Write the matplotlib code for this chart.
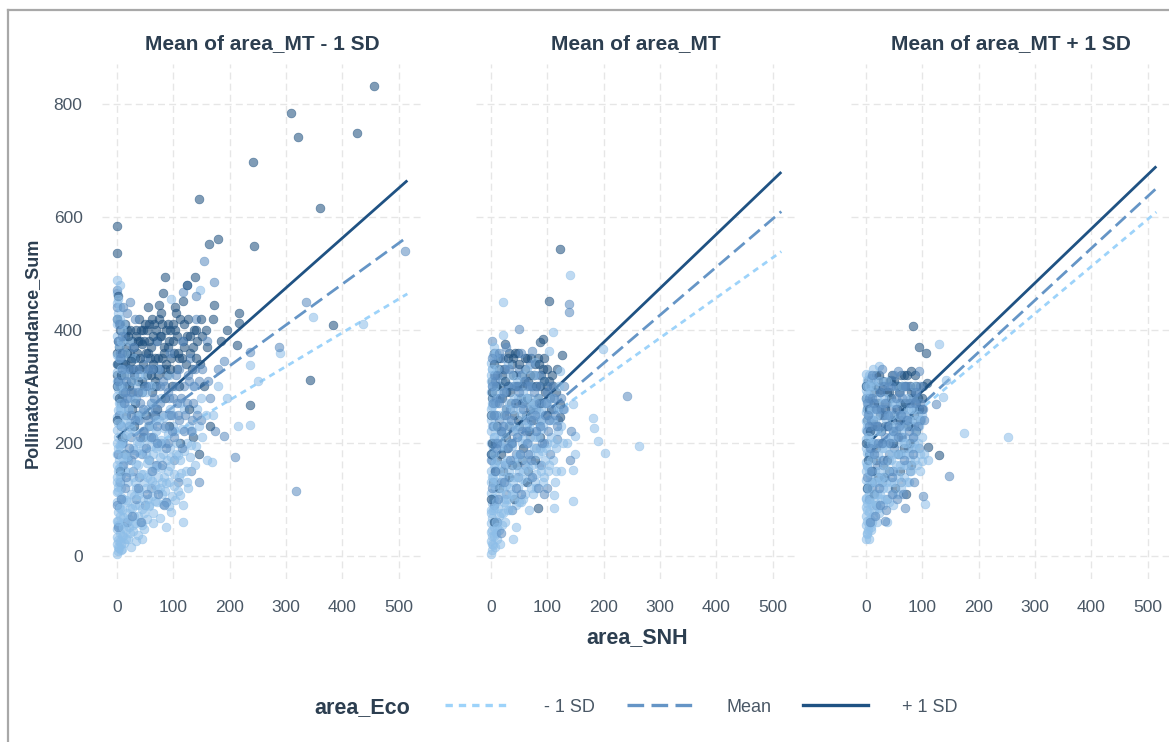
import matplotlib
matplotlib.use('Agg')
import matplotlib.pyplot as plt
from matplotlib.lines import Line2D

plt.rcParams['font.family'] = ['Liberation Sans', 'DejaVu Sans']

# panel titles and legend labels
panel_titles = ['Mean of area_MT - 1 SD', 'Mean of area_MT', 'Mean of area_MT + 1 SD']
eco_labels = ['- 1 SD', 'Mean', '+ 1 SD']
x_ticks = [0, 100, 200, 300, 400, 500]
y_ticks = [0, 200, 400, 600, 800]

# ---- panel 1 points (area_SNH, PollinatorAbundance_Sum), grouped by area_Eco shade
p1_light_x = [0, 2, 4, 1, 3, 0, 5, 1, 3, 0, 6, 2, 4, 0, 7, 1, 3, 0, 5, 2, 0, 4, 1, 6, 0, 3, 1, 5, 0, 2, 4, 0, 3, 1, 0, 2, 0, 4, 1, 0, 2, 0, 1, 0,
              8, 12, 15, 10, 18, 22, 25, 30, 28, 35, 40, 38, 45, 48, 52, 55, 60, 58, 65, 68, 70, 75, 72, 80, 85, 88, 90, 95, 98, 100,
              105, 110, 117, 120, 125, 130, 135, 140, 145, 150, 160, 169, 170, 180, 195, 215, 237, 236, 250, 290, 348, 436, 147,
              12, 16, 20, 24, 32, 36, 42, 46, 50, 56, 62, 66, 74, 78, 82, 92, 20, 26, 14, 8, 6, 10, 18, 22, 5, 30, 40, 44, 34, 87,
              118, 96, 8, 12, 16, 6, 9, 14, 28, 33, 38, 54, 64, 76, 84, 94, 104, 112, 128, 142]
p1_light_y = [2, 8, 14, 20, 27, 33, 40, 47, 55, 62, 70, 78, 86, 95, 104, 113, 122, 131, 140, 150, 160, 170, 180, 190, 200, 211, 222,
              233, 245, 258, 270, 283, 296, 310, 325, 340, 356, 372, 390, 410, 430, 447, 465, 488,
              20, 35, 60, 80, 95, 50, 110, 70, 140, 120, 90, 160, 55, 130, 180, 100, 150, 210, 75, 125, 190, 240, 160, 110, 200, 95,
              150, 260, 105, 230, 180, 140, 90, 260, 200, 175, 300, 195, 230, 280, 170, 166, 250, 300, 280, 230, 232, 338, 310, 360,
              423, 411, 470, 200, 240, 170, 280, 220, 300, 250, 190, 320, 260, 230, 300, 330, 280, 180, 320, 130, 15, 150, 260, 310,
              350, 330, 380, 420, 350, 200, 30, 25, 50, 60, 455, 120, 100, 45, 55, 160, 270, 190, 90, 240, 140, 180, 120, 140, 190,
              220, 270, 230, 260]
p1_light_x_more = [3, 5, 7, 9, 11, 13, 17, 19, 21, 23, 27, 29, 31, 33, 37, 39, 41, 43, 47, 49, 51, 53, 57, 59, 61, 63, 67, 69, 71,
                   73, 77, 79, 81, 83, 86, 89, 91, 93, 97, 99, 102, 106, 109, 113, 116, 122, 127, 133, 138, 152, 158, 10, 12, 15,
                   18, 21, 24, 27, 31, 35, 39, 43, 47, 51, 55, 60, 65, 70, 8, 11, 6, 14, 4, 7, 9, 2, 5, 3, 6, 1, 2, 4,
                   2, 4, 6, 8, 10, 12, 14, 16, 18, 20, 22, 24, 26, 28, 30, 32, 34, 36, 38, 40, 42, 44, 46, 48, 50, 54, 56, 58, 62,
                   64, 66, 68, 72, 74, 76, 78, 82, 84, 88, 92, 94, 96, 101, 104, 108, 112, 114, 119, 124, 132, 1, 3, 5, 7, 9, 3,
                   6, 11, 13, 15]
p1_light_y_more = [15, 25, 10, 35, 50, 22, 30, 75, 65, 40, 85, 55, 105, 130, 70, 110, 60, 145, 100, 75, 120, 165, 90, 135, 195,
                   105, 155, 220, 95, 140, 175, 205, 130, 245, 115, 170, 215, 130, 175, 250, 145, 200, 115, 170, 225, 150, 120,
                   220, 160, 210, 250, 230, 300, 180, 215, 260, 235, 310, 275, 245, 320, 290, 255, 290, 230, 300, 270, 240, 380,
                   410, 440, 360, 350, 200, 175, 115, 85, 300, 270, 420, 235, 155,
                   62, 128, 196, 142, 12, 68, 212, 98, 176, 30, 148, 84, 226, 44, 188, 58, 162, 204, 36, 116, 182, 82, 144, 48,
                   206, 64, 172, 88, 132, 58, 206, 96, 118, 194, 66, 156, 92, 226, 128, 88, 158, 78, 124, 98, 178, 108, 146, 186,
                   130, 196, 140, 190, 260, 330, 400, 455, 480, 290, 250, 320]
p1_mid_x = [0, 0, 3, 5, 8, 12, 15, 20, 25, 30, 35, 40, 45, 50, 55, 60, 65, 70, 75, 80, 85, 90, 95, 100, 105, 110, 115, 120, 125,
            130, 135, 140, 145, 155, 160, 165, 172, 180, 190, 209, 190, 237, 287, 317, 335, 511, 117, 140, 146, 88, 60, 40, 25, 10,
            18, 70, 50, 4, 2, 6, 1, 3, 9, 14, 22, 28, 34, 44, 48, 58, 64, 78, 92, 102, 108, 132, 150, 175]
p1_mid_y = [470, 440, 380, 300, 230, 160, 120, 260, 210, 320, 280, 240, 180, 350, 300, 270, 210, 380, 330, 250, 300, 200, 360, 280,
            320, 240, 380, 300, 480, 350, 270, 420, 310, 522, 380, 280, 485, 330, 212, 175, 345, 361, 370, 115, 450, 540, 467, 460,
            131, 95, 120, 140, 170, 200, 60, 160, 90, 250, 180, 130, 90, 50, 280, 330, 230, 150, 100, 330, 220, 170, 250, 200, 250,
            170, 130, 150, 240, 220]
p1_mid_x_more = [5, 9, 13, 17, 21, 26, 31, 36, 41, 46, 51, 57, 61, 66, 71, 76, 81, 86, 91, 96, 101, 106, 111, 116, 121, 126, 131,
                 137, 143, 152, 162, 7, 16, 27, 37, 43, 53, 63, 73, 83, 11, 19, 33, 4, 24,
                 2, 6, 10, 14, 18, 23, 26, 29, 33, 38, 42, 47, 52, 56, 62, 67, 72, 77, 82, 87, 93, 98, 103, 109, 114, 119, 124,
                 128, 134, 139]
p1_mid_y_more = [350, 390, 270, 310, 190, 250, 180, 330, 270, 220, 190, 330, 210, 280, 230, 300, 160, 230, 290, 250, 210, 270, 330,
                 190, 250, 320, 220, 300, 250, 330, 310, 100, 140, 70, 120, 60, 110, 150, 110, 90, 440, 430, 420, 410, 450,
                 310, 360, 330, 290, 280, 330, 290, 370, 240, 290, 210, 260, 300, 240, 330, 260, 200, 270, 310, 190, 280, 220,
                 300, 250, 280, 220, 270, 310, 240, 330]
p1_dark_x = [456, 308, 321, 425, 241, 146, 360, 0, 0, 243, 180, 164, 85, 138, 82, 125, 172, 75, 118, 55, 104, 217, 217, 213, 237,
             342, 383, 5, 10, 15, 20, 25, 30, 35, 40, 45, 50, 55, 60, 65, 70, 75, 80, 85, 90, 95, 100, 105, 110, 115, 120, 130, 140,
             150, 160, 170, 0, 2, 4, 8, 12, 18, 22, 28, 32, 38, 42, 48, 52, 58, 62, 68, 72, 78, 88, 92, 98, 108, 112, 128, 135, 145,
             155, 165, 185, 195, 0, 3, 15, 25, 45, 65, 1, 10, 30, 15, 6]
p1_dark_y = [832, 784, 743, 750, 697, 632, 616, 584, 536, 549, 561, 552, 494, 494, 466, 480, 445, 445, 452, 440, 440, 430, 412, 373,
             267, 311, 409, 400, 360, 340, 390, 310, 370, 400, 330, 290, 410, 360, 320, 390, 300, 420, 350, 280, 410, 330, 380, 430,
             300, 350, 410, 390, 350, 420, 370, 420, 300, 340, 280, 320, 290, 360, 300, 330, 270, 380, 350, 300, 250, 380, 290, 350,
             260, 390, 340, 230, 300, 360, 200, 260, 210, 180, 300, 230, 380, 400, 420, 460, 410, 345, 375, 330, 240, 210, 230, 180,
             150]
p1_dark_x_more = [3, 7, 11, 13, 17, 19, 23, 27, 29, 33, 37, 39, 43, 47, 49, 53, 57, 59, 63, 67, 69, 73, 77, 79, 83, 87, 89, 93, 97,
                  103, 107, 113, 117, 123, 127, 133, 137, 143, 148, 158, 7, 17, 27, 37, 47, 57, 67, 2, 1, 0,
                  1, 4, 6, 9, 12, 14, 16, 21, 24, 26, 31, 34, 36, 41, 44, 46, 51, 54, 56, 61, 64, 66, 71, 74, 76, 81, 84, 86, 91,
                  94, 99, 101, 106, 111, 119, 124, 129, 136, 141, 151]
p1_dark_y_more = [310, 350, 380, 320, 300, 400, 360, 380, 290, 350, 310, 420, 400, 340, 380, 320, 410, 350, 420, 310, 400, 350, 330,
                  430, 370, 400, 320, 380, 350, 400, 330, 420, 380, 340, 420, 330, 400, 380, 340, 400, 270, 250, 260, 250, 210, 230,
                  250, 380, 360, 340,
                  320, 370, 410, 300, 340, 390, 370, 330, 400, 350, 320, 390, 360, 380, 310, 400, 360, 400, 330, 370, 340, 410,
                  380, 320, 390, 410, 360, 330, 370, 400, 410, 360, 390, 350, 370, 390, 360, 370, 400, 390]

# ---- panel 2 points
p2_light_x = [0, 2, 4, 1, 3, 0, 5, 1, 3, 0, 6, 2, 4, 0, 7, 1, 3, 0, 5, 2, 0, 4, 1, 6, 0, 3, 1, 5, 0, 2, 4, 0, 3, 1, 0, 2, 0, 4,
              21, 140, 110, 21, 79, 103, 199, 181, 183, 191, 202, 262, 146, 150, 150, 146, 146, 113, 112, 39, 122, 114, 10, 15, 20,
              25, 30, 12, 18, 24, 30, 35, 40, 45, 50, 55, 60, 65, 70, 75, 80, 85, 90, 95, 100, 105, 110, 120, 130, 135, 8, 14, 20, 28,
              34, 42, 48, 56, 62, 72, 84, 94, 10, 30, 16, 45, 58, 68, 78, 88, 125, 6]
p2_light_y = [3, 10, 18, 26, 34, 42, 50, 58, 66, 75, 84, 93, 102, 111, 120, 130, 140, 150, 160, 170, 180, 190, 200, 210, 220, 230,
              240, 250, 260, 270, 280, 290, 300, 310, 320, 330, 342, 355,
              450, 497, 396, 391, 343, 363, 366, 244, 227, 204, 182, 195, 269, 212, 180, 152, 96, 108, 84, 30, 327, 131, 40, 70, 55,
              100, 80, 130, 160, 190, 140, 120, 170, 90, 150, 200, 130, 240, 180, 110, 220, 160, 260, 140, 200, 240, 170, 220, 260,
              200, 250, 280, 310, 260, 300, 230, 280, 320, 270, 300, 280, 310, 350, 340, 220, 50, 100, 80, 130, 190, 150, 100]
p2_light_x_more = [3, 5, 7, 9, 11, 13, 15, 17, 19, 21, 23, 25, 27, 29, 31, 33, 35, 37, 39, 41, 43, 47, 49, 51, 53, 57, 59, 61, 63,
                   67, 69, 71, 73, 77, 79, 81, 83, 87, 89, 91, 93, 97, 99, 102, 107, 111, 115, 119, 124, 128, 5, 8, 11, 14, 17,
                   22, 26, 32, 36, 41, 46, 52, 58, 64, 70, 76, 82, 6, 3, 9, 2, 4, 1,
                   2, 4, 6, 8, 10, 12, 14, 16, 18, 20, 22, 24, 26, 28, 30, 34, 38, 40, 42, 44, 48, 50, 54, 56, 60, 62, 66, 68, 72,
                   74, 78, 80, 84, 86, 90, 92, 96, 98, 104, 108, 112, 116, 121, 6, 3, 8, 12, 5]
p2_light_y_more = [20, 35, 15, 60, 30, 85, 45, 110, 75, 140, 95, 60, 125, 170, 100, 150, 80, 195, 130, 105, 160, 210, 120, 180, 95,
                   150, 230, 110, 170, 200, 140, 250, 160, 190, 270, 120, 210, 240, 150, 185, 230, 170, 270, 150, 210, 240, 190,
                   260, 230, 200, 180, 230, 270, 205, 250, 290, 230, 270, 320, 280, 310, 260, 290, 330, 280, 320, 250, 300, 330,
                   360, 250, 140, 80,
                   45, 80, 125, 165, 95, 50, 150, 20, 195, 120, 75, 215, 165, 90, 240, 200, 110, 260, 140, 225, 175, 95, 250, 135,
                   205, 280, 155, 230, 120, 265, 210, 145, 180, 255, 225, 130, 270, 190, 160, 280, 200, 150, 300, 210, 265, 290,
                   330, 370]
p2_mid_x = [138, 138, 50, 74, 241, 142, 140, 117, 5, 10, 15, 20, 25, 30, 35, 40, 45, 50, 55, 60, 65, 70, 75, 80, 85, 90, 95, 100,
            105, 110, 120, 130, 2, 6, 12, 18, 28, 38, 48, 60, 8, 22, 44, 70, 90, 100, 3, 1, 4]
p2_mid_y = [446, 431, 402, 363, 283, 221, 170, 207, 320, 280, 240, 200, 160, 300, 260, 220, 180, 330, 270, 240, 300, 210, 260, 190,
            320, 240, 200, 290, 180, 260, 240, 300, 120, 90, 60, 130, 110, 80, 140, 160, 200, 350, 320, 340, 160, 120, 380, 170, 230]
p2_mid_x_more = [4, 8, 12, 16, 21, 26, 31, 36, 41, 46, 51, 56, 61, 66, 71, 76, 81, 86, 91, 96, 101, 106, 114, 125, 7, 13, 19, 24,
                 34, 44, 54, 64, 74, 84, 94, 2, 14, 28, 54, 9,
                 3, 6, 11, 15, 18, 24, 28, 33, 38, 43, 48, 52, 58, 62, 68, 72, 78, 83, 88, 98, 104, 112, 118, 128]
p2_mid_y_more = [270, 310, 200, 280, 230, 330, 190, 240, 300, 210, 290, 220, 310, 180, 240, 290, 220, 270, 200, 250, 220, 300, 250,
                 280, 150, 100, 40, 130, 170, 120, 110, 200, 140, 120, 110, 350, 360, 370, 360, 190,
                 300, 250, 320, 270, 220, 290, 250, 330, 200, 270, 300, 180, 260, 220, 300, 170, 250, 300, 230, 270, 240, 280,
                 230, 260]
p2_dark_x = [122, 103, 92, 88, 25, 126, 122, 122, 83, 5, 10, 15, 20, 25, 30, 35, 40, 45, 50, 55, 60, 65, 70, 75, 80, 85, 90, 95, 100,
             105, 110, 0, 3, 8, 12, 18, 28, 38, 48, 58, 68, 78, 88, 1, 6, 14, 32, 42, 64, 0, 2, 100]
p2_dark_y = [543, 451, 384, 378, 376, 356, 269, 245, 85, 340, 300, 330, 280, 310, 350, 290, 320, 270, 340, 300, 350, 280, 320, 240,
             300, 340, 270, 310, 330, 280, 300, 250, 200, 150, 230, 180, 210, 160, 240, 190, 220, 170, 210, 100, 60, 120, 140, 100,
             130, 180, 290, 250]
p2_dark_x_more = [3, 7, 9, 13, 17, 19, 23, 27, 31, 33, 37, 41, 43, 47, 51, 53, 57, 61, 63, 67, 71, 73, 77, 81, 83, 87, 93, 97, 103,
                  107, 115, 118, 11, 21, 29, 36, 46, 56, 66, 4,
                  2, 5, 8, 12, 16, 20, 24, 28, 32, 36, 40, 45, 49, 54, 59, 64, 69, 74, 79, 84, 89, 94, 99, 108]
p2_dark_y_more = [280, 320, 250, 350, 300, 220, 330, 260, 300, 230, 340, 250, 360, 300, 230, 320, 270, 330, 250, 310, 350, 270, 320,
                  260, 350, 300, 330, 290, 310, 260, 290, 330, 170, 150, 190, 200, 160, 170, 150, 130,
                  310, 360, 270, 300, 350, 320, 250, 290, 360, 270, 350, 300, 360, 280, 310, 350, 260, 300, 340, 280, 320, 350,
                  300, 320]

# ---- panel 3 points
p3_light_x = [0, 2, 4, 1, 3, 0, 5, 1, 3, 0, 6, 2, 4, 0, 7, 1, 3, 0, 5, 2, 0, 4, 1, 6, 0, 3, 1, 5, 0, 2, 4, 0, 3, 1, 0, 2, 0,
              23, 130, 142, 137, 174, 252, 111, 99, 105, 5, 76, 10, 15, 20, 25, 30, 35, 40, 45, 50, 55, 60, 65, 70, 75, 80, 85, 90,
              95, 12, 18, 24, 30, 36, 42, 48, 54, 62, 72, 8, 16, 28, 58, 68, 88, 100, 38, 48]
p3_light_y = [30, 38, 46, 54, 62, 70, 78, 86, 94, 102, 110, 118, 126, 134, 142, 150, 158, 166, 174, 182, 190, 198, 206, 214, 222,
              230, 238, 246, 254, 262, 270, 278, 286, 294, 302, 312, 322,
              336, 375, 311, 281, 218, 210, 170, 167, 91, 30, 130, 50, 80, 60, 110, 90, 140, 120, 170, 150, 200, 180, 230, 210, 260,
              240, 200, 280, 230, 180, 220, 260, 200, 240, 280, 220, 300, 270, 160, 130, 150, 170, 110, 140, 170, 250, 60, 90]
p3_light_x_more = [3, 5, 7, 9, 11, 13, 15, 17, 19, 21, 23, 25, 27, 29, 31, 33, 35, 37, 39, 41, 43, 45, 47, 49, 51, 53, 57, 59, 61,
                   63, 67, 69, 71, 73, 77, 79, 81, 83, 87, 89, 91, 93, 97, 99, 103, 4, 6, 8, 10, 12, 14, 16, 20, 26, 32, 38, 44,
                   52, 64, 74, 86, 2, 1, 3, 5,
                   2, 4, 6, 8, 10, 12, 14, 16, 18, 20, 22, 24, 26, 28, 30, 34, 36, 40, 42, 46, 48, 50, 54, 56, 60, 62, 66, 68, 72,
                   76, 78, 82, 84, 88, 92, 96, 98, 6, 9, 11, 13]
p3_light_y_more = [40, 55, 65, 45, 90, 70, 110, 95, 130, 85, 150, 135, 100, 190, 120, 160, 100, 200, 150, 95, 230, 130, 180, 110,
                   210, 160, 140, 250, 180, 120, 200, 160, 230, 130, 180, 260, 150, 210, 190, 240, 160, 200, 150, 210, 180, 210,
                   250, 290, 200, 260, 300, 240, 280, 310, 280, 310, 250, 270, 300, 280, 300, 160, 100, 300, 320,
                   80, 120, 150, 95, 170, 60, 200, 130, 250, 110, 180, 75, 220, 140, 270, 190, 130, 250, 170, 210, 270, 130, 230,
                   180, 160, 220, 250, 180, 200, 240, 170, 190, 260, 220, 250, 180, 240, 300, 260, 310, 330]
p3_mid_x = [57, 94, 9, 88, 124, 147, 101, 69, 34, 5, 10, 15, 20, 25, 30, 35, 40, 45, 50, 55, 60, 65, 70, 75, 80, 85, 90, 95, 2, 6,
            12, 18, 28, 38, 48, 62, 78, 3, 22, 42]
p3_mid_y = [327, 327, 315, 290, 269, 141, 105, 84, 62, 280, 240, 200, 160, 290, 250, 210, 300, 260, 190, 240, 290, 210, 250, 190,
            280, 230, 260, 190, 140, 100, 120, 90, 130, 100, 150, 130, 150, 220, 310, 180]
p3_mid_x_more = [4, 7, 9, 13, 17, 21, 23, 27, 31, 33, 37, 43, 47, 53, 57, 63, 67, 73, 77, 83, 87, 93, 97, 103, 8, 16, 26, 36, 46,
                 56, 66, 86, 12, 28, 50,
                 3, 6, 11, 14, 18, 22, 26, 29, 34, 39, 44, 49, 54, 59, 64, 69, 74, 79, 84, 89, 96, 102]
p3_mid_y_more = [250, 190, 150, 270, 230, 200, 120, 260, 170, 300, 230, 200, 140, 280, 210, 250, 170, 300, 220, 180, 270, 230, 300,
                 240, 60, 70, 90, 80, 110, 100, 110, 130, 320, 330, 320,
                 270, 230, 280, 180, 260, 230, 290, 200, 270, 250, 300, 220, 260, 230, 280, 300, 240, 270, 210, 290, 270, 260]
p3_dark_x = [84, 94, 106, 80, 45, 108, 110, 130, 5, 10, 15, 20, 25, 30, 35, 40, 45, 50, 55, 60, 65, 70, 75, 80, 85, 90, 95, 100, 0,
             4, 8, 12, 18, 28, 38, 48, 58, 68, 78, 3, 14, 32, 52, 72, 90, 1]
p3_dark_y = [407, 370, 360, 328, 312, 306, 193, 178, 260, 300, 270, 230, 290, 310, 260, 230, 280, 310, 260, 240, 300, 270, 230, 290,
             250, 300, 260, 280, 200, 170, 220, 150, 190, 200, 170, 200, 180, 190, 200, 120, 110, 140, 120, 110, 220, 300]
p3_dark_x_more = [3, 7, 9, 13, 17, 19, 23, 27, 33, 37, 41, 43, 47, 53, 57, 61, 63, 67, 71, 77, 81, 87, 93, 97, 102, 11, 21, 31, 41,
                  61, 81, 6, 2, 24,
                  1, 4, 8, 11, 15, 18, 22, 26, 29, 34, 38, 42, 46, 50, 54, 59, 62, 66, 70, 74, 79, 84, 90, 99]
p3_dark_y_more = [240, 280, 200, 240, 300, 170, 260, 220, 250, 290, 200, 310, 240, 220, 300, 270, 210, 320, 240, 270, 230, 320, 280,
                  240, 300, 130, 140, 160, 150, 150, 160, 180, 260, 320,
                  280, 310, 260, 230, 290, 320, 270, 250, 300, 230, 270, 290, 320, 250, 300, 290, 320, 260, 300, 320, 300, 280,
                  270, 260]

# ---- fitted lines: value at area_SNH = 0 and at area_SNH = 515 for each area_Eco level (-1 SD, Mean, +1 SD)
line_x = [0, 515]
p1_lines = [[156, 464], [191, 565], [209, 665]]
p2_lines = [[172, 539], [170, 610], [186, 680]]
p3_lines = [[178, 609], [176, 651], [195, 690]]

point_colors = ['#8DBEE8', '#5B8CC0', '#1D4F7E']
line_colors = ['#9DD3FA', '#6595C6', '#1F5283']
line_styles = [(0, (2.2, 1.8)), (0, (5, 2.2)), '-']
title_color = '#2C3E50'
text_color = '#4A5866'

# each panel: list of (x, y, shade index) layers in drawing order, then the fitted lines
panels = [
    ([(p1_dark_x_more, p1_dark_y_more, 2), (p1_light_x, p1_light_y, 0), (p1_mid_x, p1_mid_y, 1), (p1_dark_x, p1_dark_y, 2),
      (p1_light_x_more, p1_light_y_more, 0), (p1_mid_x_more, p1_mid_y_more, 1)], p1_lines),
    ([(p2_dark_x_more, p2_dark_y_more, 2), (p2_light_x, p2_light_y, 0), (p2_mid_x, p2_mid_y, 1), (p2_dark_x, p2_dark_y, 2),
      (p2_light_x_more, p2_light_y_more, 0), (p2_mid_x_more, p2_mid_y_more, 1)], p2_lines),
    ([(p3_dark_x_more, p3_dark_y_more, 2), (p3_light_x, p3_light_y, 0), (p3_mid_x, p3_mid_y, 1), (p3_dark_x, p3_dark_y, 2),
      (p3_light_x_more, p3_light_y_more, 0), (p3_mid_x_more, p3_mid_y_more, 1)], p3_lines),
]

fig = plt.figure(figsize=(11.69, 7.42), dpi=100)
lefts = [0.0873, 0.4072, 0.728]

for i, (layers, lines) in enumerate(panels):
    ax = fig.add_axes([lefts[i], 0.2197, 0.2737, 0.694])
    for k in range(3):
        ax.plot(line_x, lines[k], color=line_colors[k], linestyle=line_styles[k], linewidth=2.0, zorder=2,
                solid_capstyle='butt', dash_capstyle='butt')
    for xs, ys, shade in layers:
        c = point_colors[shade]
        ax.scatter(xs, ys, s=40, color=c, alpha=0.56, edgecolors=c, linewidths=0.5, zorder=3)
    ax.set_xlim(-26, 541)
    ax.set_ylim(-41.5, 871.5)
    ax.set_xticks(x_ticks)
    ax.set_yticks(y_ticks)
    if i > 0:
        ax.set_yticklabels([])
    ax.grid(True, color='#E6E6E6', linestyle=(0, (5, 3)), linewidth=1.0)
    ax.set_axisbelow(True)
    for s in ax.spines.values():
        s.set_visible(False)
    ax.tick_params(length=0, labelsize=12.5, labelcolor=text_color)
    ax.tick_params(axis='x', pad=15)
    ax.tick_params(axis='y', pad=14)
    ax.set_title(panel_titles[i], fontsize=15, fontweight='bold', color=title_color, pad=11)

fig.text(0.545, 0.141, 'area_SNH', ha='center', va='center', fontsize=15.5, fontweight='bold', color=title_color)
fig.text(0.0275, 0.525, 'PollinatorAbundance_Sum', ha='center', va='center', rotation=90,
         fontsize=13, fontweight='bold', color=title_color)

# legend along the bottom
handles = [Line2D([0], [0], color=line_colors[k], linestyle=line_styles[k], linewidth=2.4) for k in range(3)]
fig.text(0.31, 0.047, 'area_Eco', ha='center', va='center', fontsize=15.5, fontweight='bold', color=title_color)
leg = fig.legend(handles, eco_labels, loc='center', bbox_to_anchor=(0.6, 0.047), ncol=3, frameon=False,
                 handlelength=3.6, handletextpad=1.9, columnspacing=1.75, fontsize=13)
for t in leg.get_texts():
    t.set_color(text_color)

# outer frame (left and top edge of the screenshot)
fig.add_artist(Line2D([8 / 1169, 8 / 1169], [0, 1 - 10 / 742], transform=fig.transFigure, color='#A8A8A8', linewidth=1.6))
fig.add_artist(Line2D([8 / 1169, 1], [1 - 10 / 742, 1 - 10 / 742], transform=fig.transFigure, color='#A8A8A8', linewidth=1.6))

plt.savefig('out.png', dpi=100)
plt.close()
